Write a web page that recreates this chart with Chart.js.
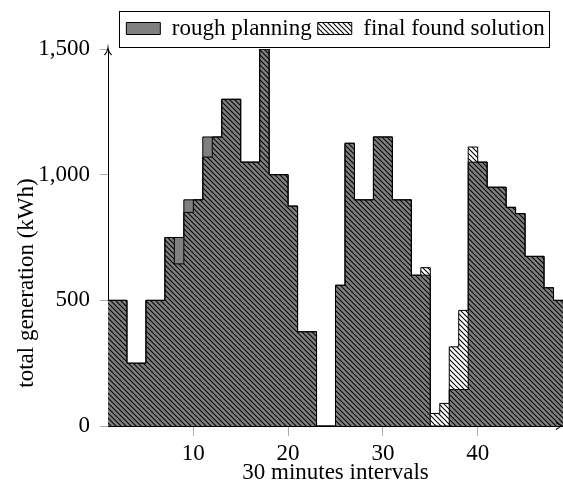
<!DOCTYPE html>
<html>
<head>
<meta charset="utf-8">
<script src="https://cdn.jsdelivr.net/npm/chart.js@4.4.0/dist/chart.umd.min.js"></script>
<style>
  html, body { margin: 0; padding: 0; background: #fff; }
  #wrap { width: 563px; height: 491px; }
</style>
</head>
<body>
<div id="wrap"><canvas id="genChart" width="563" height="491"></canvas></div>
<script>
// half-hour intervals of the day
const intervals = [1, 2, 3, 4, 5, 6, 7, 8, 9, 10, 11, 12, 13, 14, 15, 16, 17, 18, 19, 20, 21, 22, 23, 24,
                   25, 26, 27, 28, 29, 30, 31, 32, 33, 34, 35, 36, 37, 38, 39, 40, 41, 42, 43, 44, 45, 46, 47, 48];
// total generation in kWh per interval
const roughPlanning = [500, 500, 250, 250, 500, 500, 750, 750, 900, 900, 1150, 1150, 1300, 1300, 1050, 1050,
                       1500, 1000, 1000, 875, 375, 375, 0, 0, 560, 1125, 900, 900, 1150, 1150, 900, 900,
                       600, 600, 0, 0, 145, 145, 1050, 1050, 950, 950, 870, 845, 675, 675, 550, 500];
const finalSolution = [500, 500, 250, 250, 500, 500, 750, 645, 850, 900, 1070, 1150, 1300, 1300, 1050, 1050,
                       1500, 1000, 1000, 875, 375, 375, 0, 0, 560, 1125, 900, 900, 1150, 1150, 900, 900,
                       600, 630, 50, 90, 315, 460, 1110, 1050, 950, 950, 870, 845, 675, 675, 550, 500];
const xTickValues = [10, 20, 30, 40];
const yTickValues = [0, 500, 1000, 1500];
const yTitle = "total generation (kWh)";

const font = { family: "'Liberation Serif', 'Times New Roman', serif", size: 23 };

// north west lines pattern
function makeHatch() {
    const c = document.createElement("canvas");
    c.width = 5;
    c.height = 5;
    const g = c.getContext("2d");
    g.strokeStyle = "#000";
    g.lineWidth = 1.1;
    for (const off of [-5, 0, 5]) {
        g.beginPath();
        g.moveTo(off - 1, -1);
        g.lineTo(off + 6, 6);
        g.stroke();
    }
    return g.createPattern(c, "repeat");
}

// each value holds over one interval, so the last one needs an end point
function stepPoints(values) {
    const pts = intervals.map((t, i) => ({ x: t, y: values[i] }));
    pts.push({ x: intervals[intervals.length - 1] + 1, y: values[values.length - 1] });
    return pts;
}

const legendFrame = {
    id: "legendFrame",
    afterDraw(chart) {
        const lg = chart.legend;
        const boxes = lg.legendHitBoxes;
        if (!boxes || !boxes.length) return;
        const lefts = boxes.map(b => b.left);
        const rights = boxes.map(b => b.left + b.width);
        const c = chart.ctx;
        const x0 = Math.round(Math.min(...lefts) - 7) + 0.5;
        const x1 = Math.round(Math.max(...rights) + 4) + 0.5;
        c.save();
        c.strokeStyle = "#000";
        c.lineWidth = 1;
        c.strokeRect(x0, Math.round(lg.top) + 0.5, x1 - x0, 36);
        c.restore();
    }
};

// y title sits lower than the middle of the plot in the original
const yTitlePlugin = {
    id: "yTitle",
    afterDraw(chart) {
        const c = chart.ctx;
        c.save();
        c.translate(27, 283);
        c.rotate(-Math.PI / 2);
        c.font = `${font.size}px ${font.family}`;
        c.fillStyle = "#000";
        c.textAlign = "center";
        c.textBaseline = "middle";
        c.fillText(yTitle, 0, 0);
        c.restore();
    }
};

const axisArrows = {
    id: "axisArrows",
    afterDraw(chart) {
        const c = chart.ctx;
        const a = chart.chartArea;
        c.save();
        c.strokeStyle = "#000";
        c.lineWidth = 1.2;
        c.beginPath();
        c.moveTo(a.left - 3.5, a.top + 6);
        c.quadraticCurveTo(a.left - 0.5, a.top + 3, a.left, a.top - 1);
        c.quadraticCurveTo(a.left + 0.5, a.top + 3, a.left + 3.5, a.top + 6);
        c.moveTo(a.right - 7, a.bottom - 3.5);
        c.quadraticCurveTo(a.right - 3, a.bottom - 0.5, a.right, a.bottom);
        c.quadraticCurveTo(a.right - 3, a.bottom + 0.5, a.right - 7, a.bottom + 3.5);
        c.stroke();
        c.restore();
    }
};

const ctx = document.getElementById("genChart").getContext("2d");
const hatch = makeHatch();

const genChart = new Chart(ctx, {
    type: "line",
    data: {
        datasets: [{
            label: "rough planning",
            data: stepPoints(roughPlanning),
            stepped: "before",
            fill: "origin",
            backgroundColor: "#808080",
            borderColor: "#000",
            borderWidth: 1,
            pointRadius: 0,
            order: 2,
        }, {
            label: "final found solution",
            data: stepPoints(finalSolution),
            stepped: "before",
            fill: "origin",
            backgroundColor: hatch,
            borderColor: "#000",
            borderWidth: 1,
            pointRadius: 0,
            order: 1,
        }],
    },
    options: {
        responsive: false,
        animation: false,
        locale: "en-US",
        layout: { padding: { top: 11, left: 0, right: 0, bottom: 0 } },
        plugins: {
            legend: {
                position: "top",
                fullSize: false,
                maxHeight: 38,
                labels: {
                    font: font,
                    color: "#000",
                    boxWidth: 34,
                    boxHeight: 12,
                    padding: 6,
                    sort: (a, b) => a.datasetIndex - b.datasetIndex,
                },
            },
            tooltip: { enabled: false },
        },
        scales: {
            x: {
                type: "linear",
                min: 1,
                max: 49,
                afterBuildTicks: (axis) => { axis.ticks = xTickValues.map(v => ({ value: v })); },
                afterFit: (axis) => { axis.height = 65; },
                grid: { drawOnChartArea: false, drawTicks: true, tickLength: 10, color: "#aaa" },
                border: { color: "#000", width: 1 },
                ticks: { font: font, color: "#000", padding: 4, maxRotation: 0, autoSkip: false },
                title: { display: true, text: "30 minutes intervals", font: font, color: "#000", padding: { top: 0, bottom: 4 } },
            },
            y: {
                min: 0,
                max: 1500,
                afterBuildTicks: (axis) => { axis.ticks = yTickValues.map(v => ({ value: v })); },
                afterFit: (axis) => { axis.width = 108; },
                grid: { drawOnChartArea: false, drawTicks: true, tickLength: 8, color: "#aaa" },
                border: { color: "#000", width: 1 },
                ticks: { font: font, color: "#000", padding: 10 },
                title: { display: false },
            },
        },
    },
    plugins: [legendFrame, yTitlePlugin, axisArrows],
});
</script>
</body>
</html>
